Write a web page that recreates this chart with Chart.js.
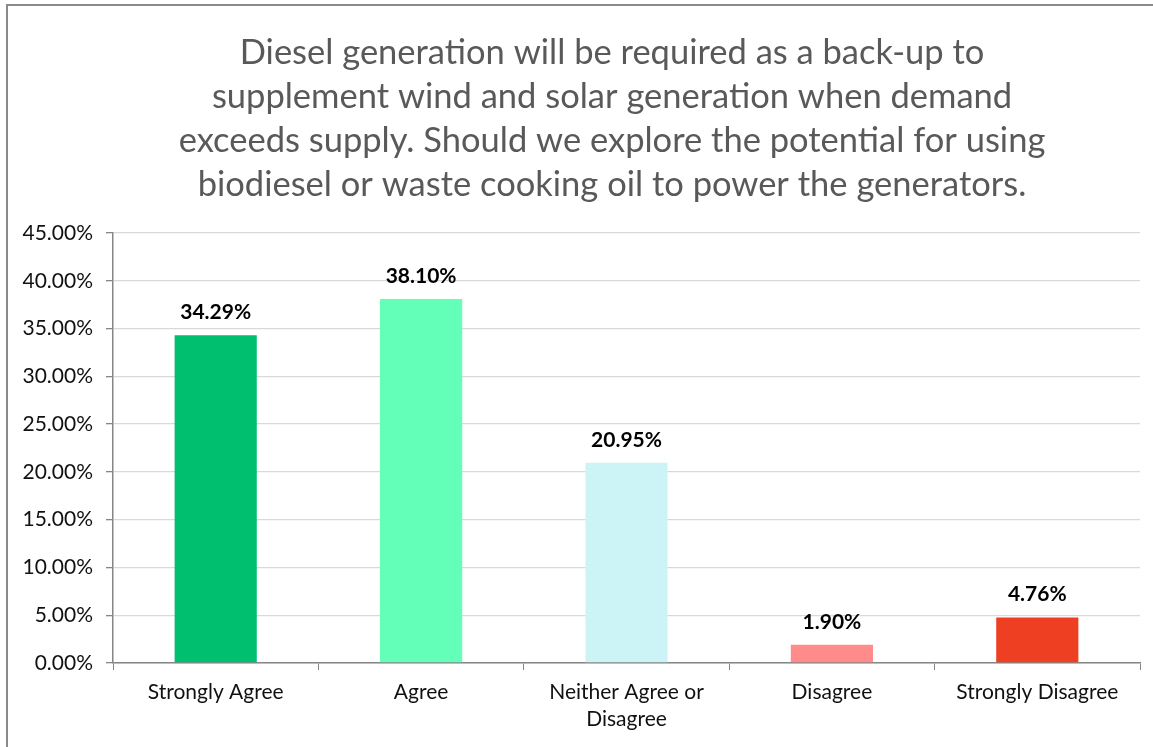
<!DOCTYPE html>
<html>
<head>
<meta charset="utf-8">
<script src="https://cdn.jsdelivr.net/npm/chart.js@4.4.1/dist/chart.umd.min.js"></script>
<style>
  html, body { margin: 0; padding: 0; background: #fff; }
  #wrap { position: absolute; left: 0; top: 0; width: 1153px; height: 747px; }
  #frame { position: absolute; left: 6px; top: 4px; width: 1160px; height: 760px;
           border-top: 2px solid #8a8a8a; border-left: 2px solid #8a8a8a; pointer-events: none; }
</style>
</head>
<body>
<div id="wrap"><canvas id="c" width="1153" height="747"></canvas></div>
<div id="frame"></div>
<script>
const titleLines = [
  "Diesel generation will be required as a back-up to",
  "supplement wind and solar generation when demand",
  "exceeds supply. Should we explore the potential for using",
  "biodiesel or waste cooking oil to power the generators."
];
const categories = [
  "Strongly Agree",
  "Agree",
  ["Neither Agree or", "Disagree"],
  "Disagree",
  "Strongly Disagree"
];
const values = [34.29, 38.10, 20.95, 1.90, 4.76];
const barColors = ["#00BF6F", "#63FFB9", "#CCF4F7", "#FF8B8B", "#EE3F22"];
const yTicks = [0, 5, 10, 15, 20, 25, 30, 35, 40, 45];

const FONT = "Lato, 'Open Sans', sans-serif";

const valueLabels = {
  id: "valueLabels",
  afterDatasetsDraw(chart) {
    const ctx = chart.ctx;
    const meta = chart.getDatasetMeta(0);
    ctx.save();
    ctx.font = "bold 21px " + FONT;
    ctx.fillStyle = "#000";
    ctx.textAlign = "center";
    ctx.textBaseline = "middle";
    meta.data.forEach((bar, i) => {
      ctx.fillText(values[i].toFixed(2) + "%", bar.x, bar.y - 23);
    });
    ctx.restore();
  }
};

const titleBlock = {
  id: "titleBlock",
  afterDraw(chart) {
    const ctx = chart.ctx;
    ctx.save();
    ctx.font = "34.5px " + FONT;
    ctx.fillStyle = "#595959";
    ctx.textAlign = "center";
    ctx.textBaseline = "middle";
    const cx = 612, top = 53, lh = 44;
    titleLines.forEach((line, i) => ctx.fillText(line, cx, top + i * lh));
    ctx.restore();
  }
};

new Chart(document.getElementById("c"), {
  type: "bar",
  data: {
    labels: categories,
    datasets: [{
      data: values,
      backgroundColor: barColors,
      borderWidth: 0,
      barPercentage: 0.4,
      categoryPercentage: 1.0
    }]
  },
  options: {
    responsive: false,
    animation: false,
    layout: { padding: { left: 0, right: 13, top: 233, bottom: 0 } },
    plugins: {
      legend: { display: false },
      tooltip: { enabled: false },
      title: { display: false }
    },
    scales: {
      x: {
        grid: { display: true, drawOnChartArea: false, drawTicks: true, tickLength: 7, color: "#868686", offset: true },
        border: { color: "#868686", width: 1.5 },
        ticks: { color: "#111", font: { family: FONT, size: 21, lineHeight: 1.29 }, padding: 9, maxRotation: 0, autoSkip: false },
        afterFit(scale) { scale.height = 84; }
      },
      y: {
        min: 0, max: 45,
        afterBuildTicks(scale) { scale.ticks = yTicks.map(v => ({ value: v })); },
        grid: { color: "#d9d9d9", lineWidth: 1.3, tickLength: 7, tickColor: "#868686" },
        border: { color: "#868686", width: 1.5 },
        ticks: {
          color: "#111", font: { family: FONT, size: 21 }, padding: 13,
          callback: v => v.toFixed(2) + "%"
        },
        afterFit(scale) { scale.width = 113; }
      }
    }
  },
  plugins: [valueLabels, titleBlock]
});
</script>
</body>
</html>
